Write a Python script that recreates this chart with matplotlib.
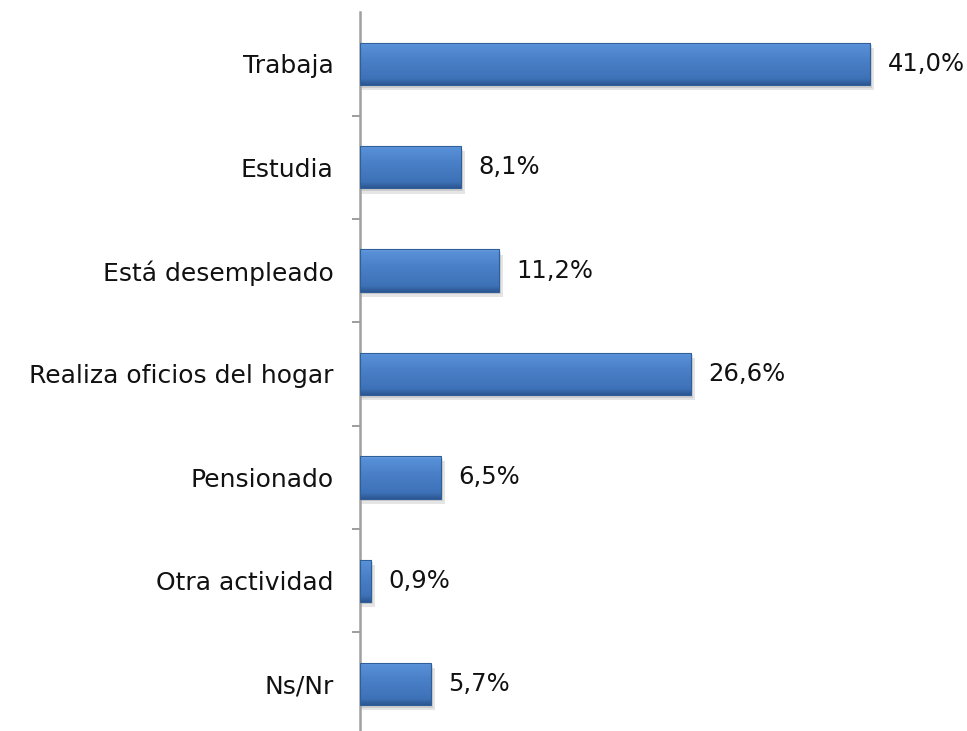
import matplotlib
matplotlib.use("Agg")
import matplotlib.pyplot as plt
import numpy as np
from matplotlib.colors import LinearSegmentedColormap

categories = ["Trabaja", "Estudia", "Está desempleado", "Realiza oficios del hogar",
              "Pensionado", "Otra actividad", "Ns/Nr"]
values = [41.0, 8.1, 11.2, 26.6, 6.5, 0.9, 5.7]
value_labels = ["41,0%", "8,1%", "11,2%", "26,6%", "6,5%", "0,9%", "5,7%"]

plt.rcParams['font.family'] = ['DejaVu Sans']

fig = plt.figure(figsize=(9.67, 7.31), dpi=100)
left = 360 / 967
width = 560 / 967
top = 1 - 12.3 / 731
bottom = 1 - 735.7 / 731
ax = fig.add_axes([left, bottom, width, top - bottom])

y = np.arange(len(categories))
bar_h = 0.41

cmap = LinearSegmentedColormap.from_list(
    "bev", [(0.0, "#6fa3e6"), (0.07, "#5890d8"), (0.4, "#4a80c8"), (0.85, "#3e72b8"), (1.0, "#2c5690")])
grad = np.linspace(0, 1, 256).reshape(-1, 1)

bars = ax.barh(y, values, height=bar_h, color="none", edgecolor="none", zorder=3)
for b in bars:
    x0, y0 = b.get_x(), b.get_y()
    w, h = b.get_width(), b.get_height()
    ax.add_patch(plt.Rectangle((x0, y0 + 0.05), w + 0.3, h, facecolor="#000000", alpha=0.10,
                               edgecolor="none", zorder=2))
    ax.add_patch(plt.Rectangle((x0, y0 + 0.025), w + 0.15, h, facecolor="#000000", alpha=0.10,
                               edgecolor="none", zorder=2))
    im = ax.imshow(grad, cmap=cmap, aspect="auto", extent=(x0, x0 + w, y0 + h, y0),
                   zorder=3, interpolation="bilinear")
    im.set_clip_path(b)
    ax.add_patch(plt.Rectangle((x0, y0), w, h, facecolor="none", edgecolor="#2f5f98",
                               linewidth=0.8, zorder=4))

for yi, v, lab in zip(y, values, value_labels):
    ax.annotate(lab, xy=(v, yi), xytext=(12.5, 0), textcoords="offset points",
                ha="left", va="center", fontsize=17.5, color="#111111", annotation_clip=False)

ax.set_xlim(0, 45)
ax.set_ylim(len(categories) - 0.5, -0.5)

ax.set_yticks(np.arange(len(categories) - 1) + 0.5)
ax.set_yticklabels([])
ax.set_yticks(y, minor=True)
ax.set_yticklabels(categories, minor=True, fontsize=18, color="#111111")
ax.tick_params(axis="y", which="major", length=6, width=1.2, color="#8c8c8c", direction="out")
ax.tick_params(axis="y", which="minor", length=0, pad=19)
ax.set_xticks([])

for s in ["top", "right", "bottom"]:
    ax.spines[s].set_visible(False)
ax.spines["left"].set_color("#a0a0a0")
ax.spines["left"].set_linewidth(1.8)
ax.set_facecolor("none")

fig.savefig("out.png", dpi=100)
